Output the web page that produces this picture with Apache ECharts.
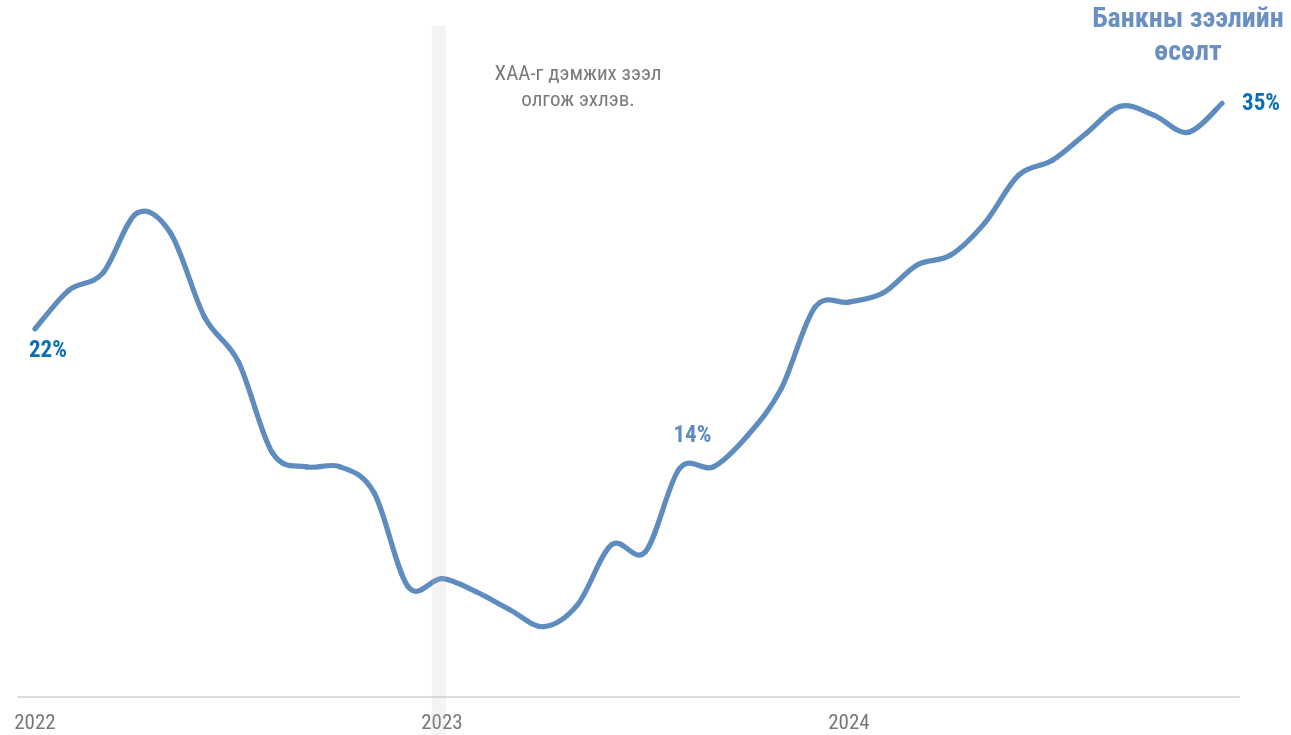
<!DOCTYPE html>
<html>
<head>
<meta charset="utf-8">
<script src="https://cdn.jsdelivr.net/npm/echarts@6/dist/echarts.min.js"></script>
<style>
html,body{margin:0;padding:0;background:#fff;}
#c{width:1291px;height:735px;}
</style>
</head>
<body>
<div id="c"></div>
<script>
const months = [
  '2022-01','2022-02','2022-03','2022-04','2022-05','2022-06','2022-07','2022-08','2022-09','2022-10','2022-11','2022-12',
  '2023-01','2023-02','2023-03','2023-04','2023-05','2023-06','2023-07','2023-08','2023-09','2023-10','2023-11','2023-12',
  '2024-01','2024-02','2024-03','2024-04','2024-05','2024-06','2024-07','2024-08','2024-09','2024-10','2024-11','2024-12'
];
const loanGrowth = [
  22.0, 24.24, 25.22, 28.67, 27.52, 22.69, 20.1, 14.87, 14.06, 14.06, 12.56, 7.16,
  7.62, 6.87, 5.83, 4.85, 6.12, 9.57, 9.17, 13.95, 14.06, 15.84, 18.55, 23.26,
  23.55, 24.07, 25.68, 26.26, 28.1, 30.86, 31.72, 33.28, 34.83, 34.31, 33.33, 35.0
];
const labelIdx = [0, 19, 35];
const titleText = 'Банкны зээлийн\nөсөлт';
const noteText = 'ХАА-г дэмжих зээл\nолгож эхлэв.';
const markMonth = '2023-01';

const FONT = "'Roboto Condensed','Liberation Sans Narrow','Roboto',sans-serif";
const LINE = '#5f8cbe';
const DARK = '#0b6fb7';

// Catmull-Rom segment between point i and i+1, drawn through the axes' own scales
function renderSegment(params, api) {
  const i = params.dataIndex;
  const n = loanGrowth.length;
  if (i >= n - 1) return null;
  const pt = j => {
    const k = Math.max(0, Math.min(n - 1, j));
    return api.coord([k, loanGrowth[k]]);
  };
  const p0 = pt(i - 1), p1 = pt(i), p2 = pt(i + 1), p3 = pt(i + 2);
  return {
    type: 'bezierCurve',
    shape: {
      x1: p1[0], y1: p1[1], x2: p2[0], y2: p2[1],
      cpx1: p1[0] + (p2[0] - p0[0]) / 6, cpy1: p1[1] + (p2[1] - p0[1]) / 6,
      cpx2: p2[0] - (p3[0] - p1[0]) / 6, cpy2: p2[1] - (p3[1] - p1[1]) / 6
    },
    style: {stroke: LINE, lineWidth: 5.2, fill: null, lineCap: 'round'},
    silent: true
  };
}

const chart = echarts.init(document.getElementById('c'));
const option = {
  animation: false,
  grid: {left: 18, right: 52, top: 27, bottom: 38, containLabel: false},
  xAxis: {
    type: 'category',
    data: months,
    boundaryGap: true,
    axisLine: {lineStyle: {color: '#dcdcdc', width: 2}},
    axisTick: {show: false},
    axisLabel: {
      interval: 11,
      formatter: v => v.slice(0, 4),
      color: '#777',
      fontFamily: FONT,
      fontSize: 21,
      margin: 16
    },
    splitLine: {show: false}
  },
  yAxis: {type: 'value', min: 0.8, max: 39.4, show: false, splitLine: {show: false}},
  series: [{
    type: 'custom',
    renderItem: renderSegment,
    data: loanGrowth.map((v, i) => [i, v]),
    encode: {x: 0, y: 1},
    clip: false,
    markPoint: {
      symbol: 'circle',
      symbolSize: 0,
      silent: true,
      data: [
        {coord: [labelIdx[0], loanGrowth[labelIdx[0]]], label: {offset: [13, 22], color: DARK}},
        {coord: [labelIdx[1], loanGrowth[labelIdx[1]]], label: {offset: [13, -32], color: LINE}},
        {coord: [labelIdx[2], loanGrowth[labelIdx[2]]], label: {offset: [39, 1], color: DARK}}
      ],
      label: {
        show: true,
        position: 'inside',
        formatter: p => Math.round(p.data.coord[1]) + '%',
        fontFamily: FONT,
        fontWeight: 'bold',
        fontSize: 23
      }
    }
  }],
  graphic: [
    {
      type: 'text', id: 'title', x: 1188, y: 3,
      style: {text: titleText, textAlign: 'center', fill: '#6a90c0', font: "bold 28px " + FONT, lineHeight: 33}
    },
    {
      type: 'text', id: 'note', x: 578, y: 62,
      style: {text: noteText, textAlign: 'center', fill: '#7a7a7a', font: "21px " + FONT, lineHeight: 26}
    }
  ]
};
chart.setOption(option);
const bx = chart.convertToPixel({xAxisIndex: 0}, markMonth);
chart.setOption({
  graphic: [
    {type: 'rect', id: 'band', z: 100, silent: true,
     shape: {x: bx - 10, y: 26, width: 14, height: 709},
     style: {fill: 'rgba(190,190,190,0.17)'}}
  ]
});
</script>
</body>
</html>
